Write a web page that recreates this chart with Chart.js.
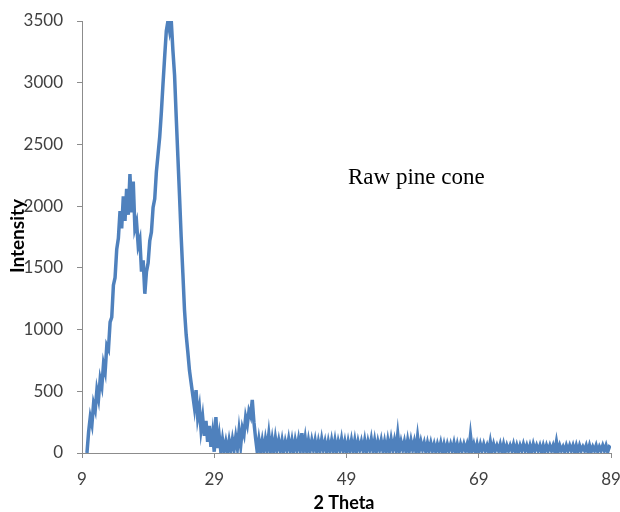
<!DOCTYPE html>
<html>
<head>
<meta charset="utf-8">
<script src="https://cdn.jsdelivr.net/npm/chart.js@4/dist/chart.umd.min.js"></script>
<style>
html, body { margin: 0; padding: 0; background: #fff; }
</style>
</head>
<body>
<canvas id="chart_xrd" width="620" height="512"></canvas>
<script>
// XRD pattern of raw pine cone, 2 theta scan 9.75 .. 89 deg, step 0.25
var sampleName = "Raw pine cone";
var xTitle = "2 Theta";
var yTitle = "Intensity";
var thetaStart = 9.75;
var thetaStep = 0.25;
var thetaTicks = [9, 29, 49, 69, 89];
var intensityTicks = [0, 500, 1000, 1500, 2000, 2500, 3000, 3500];

// 4 values per degree (x.00, x.25, x.50, x.75)
var intensity = [
  0,
  170, 290, 230, 400,      // 10
  350, 510, 440, 600,      // 11
  540, 720, 660, 870,      // 12
  840, 1060, 1100, 1360,   // 13
  1420, 1650, 1740, 1960,  // 14
  1820, 2080, 1880, 2140,  // 15
  1930, 2260, 1950, 2200,  // 16
  1820, 1870, 1680, 1730,  // 17
  1470, 1560, 1290, 1470,  // 18
  1540, 1720, 1790, 1990,  // 19
  2060, 2280, 2420, 2560,  // 20
  2760, 2990, 3210, 3420,  // 21
  3500, 3420, 3500, 3260,  // 22
  3060, 2720, 2400, 2080,  // 23
  1750, 1460, 1160, 960,   // 24
  820, 670, 570, 470,      // 25
  370, 510, 290, 370,      // 26
  190, 290, 140, 260,      // 27
  90, 220, 50, 160,        // 28
  10, 290, 40, 140,        // 29
  10, 110, 20, 90,         // 30
  10, 100, 20, 110,        // 31
  30, 130, 40, 180,        // 32
  60, 200, 150, 290,       // 33
  230, 340, 300, 430,      // 34
  250, 120, 10, 110,       // 35
  20, 100, 10, 110,        // 36
  30, 150, 20, 110,        // 37
  10, 120, 30, 100,        // 38
  20, 100, 10, 90,         // 39
  30, 110, 20, 100,        // 40
  10, 100, 30, 110,        // 41
  20, 160, 30, 120,        // 42
  10, 100, 20, 100,        // 43
  30, 100, 10, 90,         // 44
  20, 110, 30, 90,         // 45
  10, 90, 20, 100,         // 46
  20, 100, 10, 90,         // 47
  30, 110, 20, 90,         // 48
  10, 90, 20, 100,         // 49
  20, 100, 10, 90,         // 50
  30, 90, 20, 100,         // 51
  10, 90, 30, 110,         // 52
  20, 100, 10, 90,         // 53
  30, 100, 20, 90,         // 54
  10, 100, 20, 110,        // 55
  30, 100, 20, 150,        // 56
  20, 90, 30, 90,          // 57
  10, 100, 20, 100,        // 58
  30, 90, 10, 130,         // 59
  20, 90, 30, 80,          // 60
  10, 80, 20, 80,          // 61
  20, 70, 10, 70,          // 62
  20, 80, 10, 70,          // 63
  10, 70, 20, 70,          // 64
  20, 80, 10, 70,          // 65
  10, 70, 20, 70,          // 66
  20, 70, 10, 140,         // 67
  20, 70, 10, 70,          // 68
  10, 70, 20, 70,          // 69
  20, 60, 10, 90,          // 70
  10, 70, 20, 60,          // 71
  20, 70, 10, 70,          // 72
  10, 60, 20, 60,          // 73
  20, 70, 10, 60,          // 74
  10, 60, 20, 70,          // 75
  20, 60, 10, 60,          // 76
  10, 70, 20, 60,          // 77
  20, 60, 10, 60,          // 78
  10, 60, 20, 60,          // 79
  20, 60, 10, 90,          // 80
  10, 60, 20, 50,          // 81
  10, 60, 20, 60,          // 82
  20, 60, 10, 60,          // 83
  10, 60, 20, 50,          // 84
  20, 60, 10, 60,          // 85
  10, 50, 20, 60,          // 86
  10, 50, 20, 60,          // 87
  20, 60, 10, 50,          // 88
  40                       // 89
];

var points = intensity.map(function (v, i) {
  return { x: thetaStart + i * thetaStep, y: v };
});

var tickFont = { family: "Lato", size: 17 };
var axisGrey = "#8c8c8c";

// axis titles and the sample name are drawn by hand, the y title sits over the tick labels
var xrdLabels = {
  id: "xrdLabels",
  afterDraw: function (chart) {
    var ctx = chart.ctx;
    ctx.save();
    ctx.fillStyle = "#000";
    ctx.font = '23px "Liberation Serif", "Times New Roman", serif';
    ctx.textAlign = "left";
    ctx.textBaseline = "alphabetic";
    ctx.fillText(sampleName, 348, 184);

    ctx.font = "bold 18px Lato";
    ctx.textAlign = "center";
    ctx.fillText(xTitle, 344, 509);

    ctx.translate(24, 236);
    ctx.rotate(-Math.PI / 2);
    ctx.font = "bold 19px Lato";
    ctx.textBaseline = "alphabetic";
    ctx.fillText(yTitle, 0, 0);
    ctx.restore();
  }
};

var ctxXrd = document.getElementById("chart_xrd").getContext("2d");
var chartXrd = new Chart(ctxXrd, {
  type: "line",
  data: {
    datasets: [{
      label: sampleName,
      data: points,
      borderColor: "#4F81BD",
      borderWidth: 3.5,
      pointRadius: 0,
      tension: 0,
      fill: false
    }]
  },
  options: {
    responsive: false,
    animation: false,
    devicePixelRatio: 1,
    layout: { padding: { left: 0, right: 9, top: 21, bottom: 0 } },
    plugins: {
      legend: { display: false },
      tooltip: { enabled: false }
    },
    scales: {
      x: {
        type: "linear",
        min: thetaTicks[0],
        max: thetaTicks[thetaTicks.length - 1],
        ticks: {
          stepSize: thetaTicks[1] - thetaTicks[0],
          font: tickFont,
          color: "#404040",
          padding: 11,
          maxRotation: 0,
          autoSkip: false
        },
        grid: { drawOnChartArea: false, drawTicks: true, tickLength: 5, color: axisGrey },
        border: { color: axisGrey, width: 1 },
        afterFit: function (scale) {
          scale.height = 59;
          scale.paddingLeft = 0;
          scale.paddingRight = 0;
        }
      },
      y: {
        min: intensityTicks[0],
        max: intensityTicks[intensityTicks.length - 1],
        ticks: {
          stepSize: intensityTicks[1] - intensityTicks[0],
          font: tickFont,
          color: "#404040",
          padding: 14,
          callback: function (value) { return String(value); }
        },
        grid: { drawOnChartArea: false, drawTicks: true, tickLength: 5, color: axisGrey },
        border: { color: axisGrey, width: 1 },
        afterFit: function (scale) {
          scale.width = 82;
          scale.paddingTop = 0;
          scale.paddingBottom = 0;
        }
      }
    }
  },
  plugins: [xrdLabels]
});
</script>
</body>
</html>
